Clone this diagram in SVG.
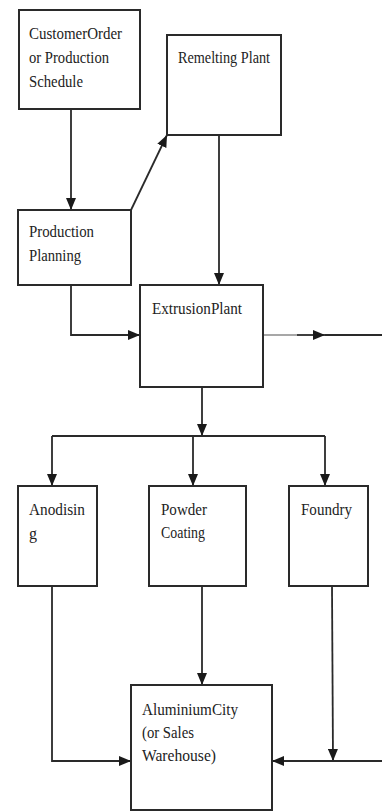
<svg xmlns="http://www.w3.org/2000/svg" width="382" height="812" viewBox="0 0 382 812">
<defs>
<style>
.box{fill:#fff;stroke:#2a2a2a;stroke-width:2}
.t{font-family:"Liberation Serif","Times New Roman",serif;font-size:16px;fill:#222}
.c{fill:none;stroke:#2a2a2a;stroke-width:1.8}
.g{fill:none;stroke:#8a8a8a;stroke-width:1.5}
</style>
<marker id="ah" markerUnits="userSpaceOnUse" markerWidth="12" markerHeight="10" refX="12" refY="5" orient="auto">
<path d="M0,0 L12,5 L0,10 z" fill="#1a1a1a"/>
</marker>
</defs>
<rect width="382" height="812" fill="#fff"/>
<g id="connectors">
<path class="c" d="M71,109 L71,210" marker-end="url(#ah)"/>
<path class="c" d="M131,210 L167,135" marker-end="url(#ah)"/>
<path class="c" d="M219,135 L219,285" marker-end="url(#ah)"/>
<path class="c" d="M71,285 L71,335 L140,335" marker-end="url(#ah)"/>
<path class="g" d="M263,335 L297,335"/>
<path class="c" d="M297,335 L325,335" stroke-width="2.6" marker-end="url(#ah)"/>
<path class="c" d="M325,335 L382,335"/>
<path class="c" d="M202,387 L202,436" marker-end="url(#ah)"/>
<path class="c" d="M52,436 L325,436"/>
<path class="c" d="M52,436 L52,486" marker-end="url(#ah)"/>
<path class="c" d="M193,436 L193,486" marker-end="url(#ah)"/>
<path class="c" d="M325,436 L325,486" marker-end="url(#ah)"/>
<path class="c" d="M52,586 L52,761 L131,761" marker-end="url(#ah)"/>
<path class="c" d="M202,586 L202,685" marker-end="url(#ah)"/>
<path class="c" d="M332,586 L333,761" marker-end="url(#ah)"/>
<path class="c" d="M382,761 L272,761" marker-end="url(#ah)"/>
</g>
<g id="customer-order">
<rect class="box" x="19" y="10" width="121" height="99"/>
<text class="t" x="29" y="39" textLength="93" lengthAdjust="spacingAndGlyphs">CustomerOrder</text>
<text class="t" x="29" y="63" textLength="80" lengthAdjust="spacingAndGlyphs">or Production</text>
<text class="t" x="29" y="87" textLength="54" lengthAdjust="spacingAndGlyphs">Schedule</text>
</g>
<g id="remelting-plant">
<rect class="box" x="167" y="35" width="114" height="100"/>
<text class="t" x="178" y="63" textLength="92" lengthAdjust="spacingAndGlyphs">Remelting Plant</text>
</g>
<g id="production-planning">
<rect class="box" x="18" y="210" width="113" height="75"/>
<text class="t" x="29" y="237" textLength="65" lengthAdjust="spacingAndGlyphs">Production</text>
<text class="t" x="29" y="261" textLength="52" lengthAdjust="spacingAndGlyphs">Planning</text>
</g>
<g id="extrusion-plant">
<rect class="box" x="140" y="285" width="123" height="102"/>
<text class="t" x="152" y="314" textLength="90" lengthAdjust="spacingAndGlyphs">ExtrusionPlant</text>
</g>
<g id="anodising">
<rect class="box" x="18" y="486" width="79" height="100"/>
<text class="t" x="29" y="515" textLength="56" lengthAdjust="spacingAndGlyphs">Anodisin</text>
<text class="t" x="29" y="539">g</text>
</g>
<g id="powder-coating">
<rect class="box" x="149" y="486" width="97" height="100"/>
<text class="t" x="161" y="515" textLength="46" lengthAdjust="spacingAndGlyphs">Powder</text>
<text class="t" x="161" y="538" textLength="44" lengthAdjust="spacingAndGlyphs">Coating</text>
</g>
<g id="foundry">
<rect class="box" x="289" y="486" width="79" height="100"/>
<text class="t" x="301" y="515" textLength="51" lengthAdjust="spacingAndGlyphs">Foundry</text>
</g>
<g id="aluminium-city">
<rect class="box" x="131" y="685" width="141" height="125"/>
<text class="t" x="142" y="715" textLength="96" lengthAdjust="spacingAndGlyphs">AluminiumCity</text>
<text class="t" x="142" y="738" textLength="52" lengthAdjust="spacingAndGlyphs">(or Sales</text>
<text class="t" x="142" y="761" textLength="74" lengthAdjust="spacingAndGlyphs">Warehouse)</text>
</g>
</svg>
